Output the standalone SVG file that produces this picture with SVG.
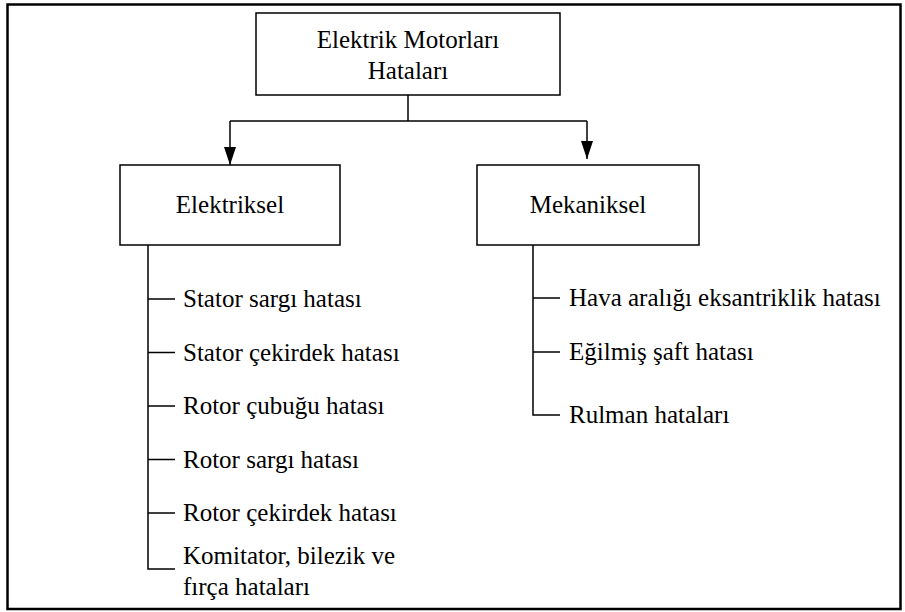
<svg xmlns="http://www.w3.org/2000/svg" width="905" height="612" viewBox="0 0 905 612">
  <defs>
    <marker id="arrow" markerUnits="userSpaceOnUse" markerWidth="18" markerHeight="12" refX="18" refY="6" viewBox="0 0 18 12" orient="auto">
      <path d="M0,0 L18,6 L0,12 Z" fill="#000000"/>
    </marker>
  </defs>
  <rect width="905" height="612" fill="#ffffff"/>

  <!-- outer frame -->
  <rect x="7.5" y="4.5" width="893" height="604.5" fill="none" stroke="#000000" stroke-width="2.5"/>

  <!-- connectors -->
  <g id="connectors" fill="none" stroke="#000000" stroke-width="1.5">
    <path d="M408,95 V121"/>
    <path d="M230,121 H587"/>
    <path d="M230,121 V165" marker-end="url(#arrow)"/>
    <path d="M587,121 V159" marker-end="url(#arrow)"/>
    <!-- electrical branch -->
    <path d="M148,245 V569 H175"/>
    <path d="M148,299 H175 M148,352.5 H175 M148,406 H175 M148,459.5 H175 M148,513 H175"/>
    <!-- mechanical branch -->
    <path d="M533,245 V415 H560"/>
    <path d="M533,298 H560 M533,352 H560"/>
  </g>

  <!-- boxes and labels -->
  <g id="nodes" font-family="Liberation Serif" font-size="25">
    <g id="root">
      <rect x="256" y="13" width="304" height="82" fill="#ffffff" stroke="#000000" stroke-width="1.5"/>
      <text x="408" y="47.5" text-anchor="middle">Elektrik Motorları</text>
      <text x="408" y="79" text-anchor="middle">Hataları</text>
    </g>

    <g id="elektriksel">
      <rect x="120" y="165" width="220" height="80" fill="#ffffff" stroke="#000000" stroke-width="1.5"/>
      <text x="230" y="213" text-anchor="middle">Elektriksel</text>
    </g>

    <g id="mekaniksel">
      <rect x="477" y="165" width="222" height="80" fill="#ffffff" stroke="#000000" stroke-width="1.5"/>
      <text x="588" y="213" text-anchor="middle">Mekaniksel</text>
    </g>

    <g id="stator-sargi"><text x="183" y="307">Stator sargı hatası</text></g>
    <g id="stator-cekirdek"><text x="183" y="360.5">Stator çekirdek hatası</text></g>
    <g id="rotor-cubugu"><text x="183" y="414">Rotor çubuğu hatası</text></g>
    <g id="rotor-sargi"><text x="183" y="467.5">Rotor sargı hatası</text></g>
    <g id="rotor-cekirdek"><text x="183" y="521">Rotor çekirdek hatası</text></g>
    <g id="komitator">
      <text x="183" y="564">Komitator, bilezik ve</text>
      <text x="183" y="595">fırça hataları</text>
    </g>

    <g id="hava-araligi"><text x="569" y="306">Hava aralığı eksantriklik hatası</text></g>
    <g id="egilmis-saft"><text x="569" y="360">Eğilmiş şaft hatası</text></g>
    <g id="rulman"><text x="569" y="423">Rulman hataları</text></g>
  </g>
</svg>
